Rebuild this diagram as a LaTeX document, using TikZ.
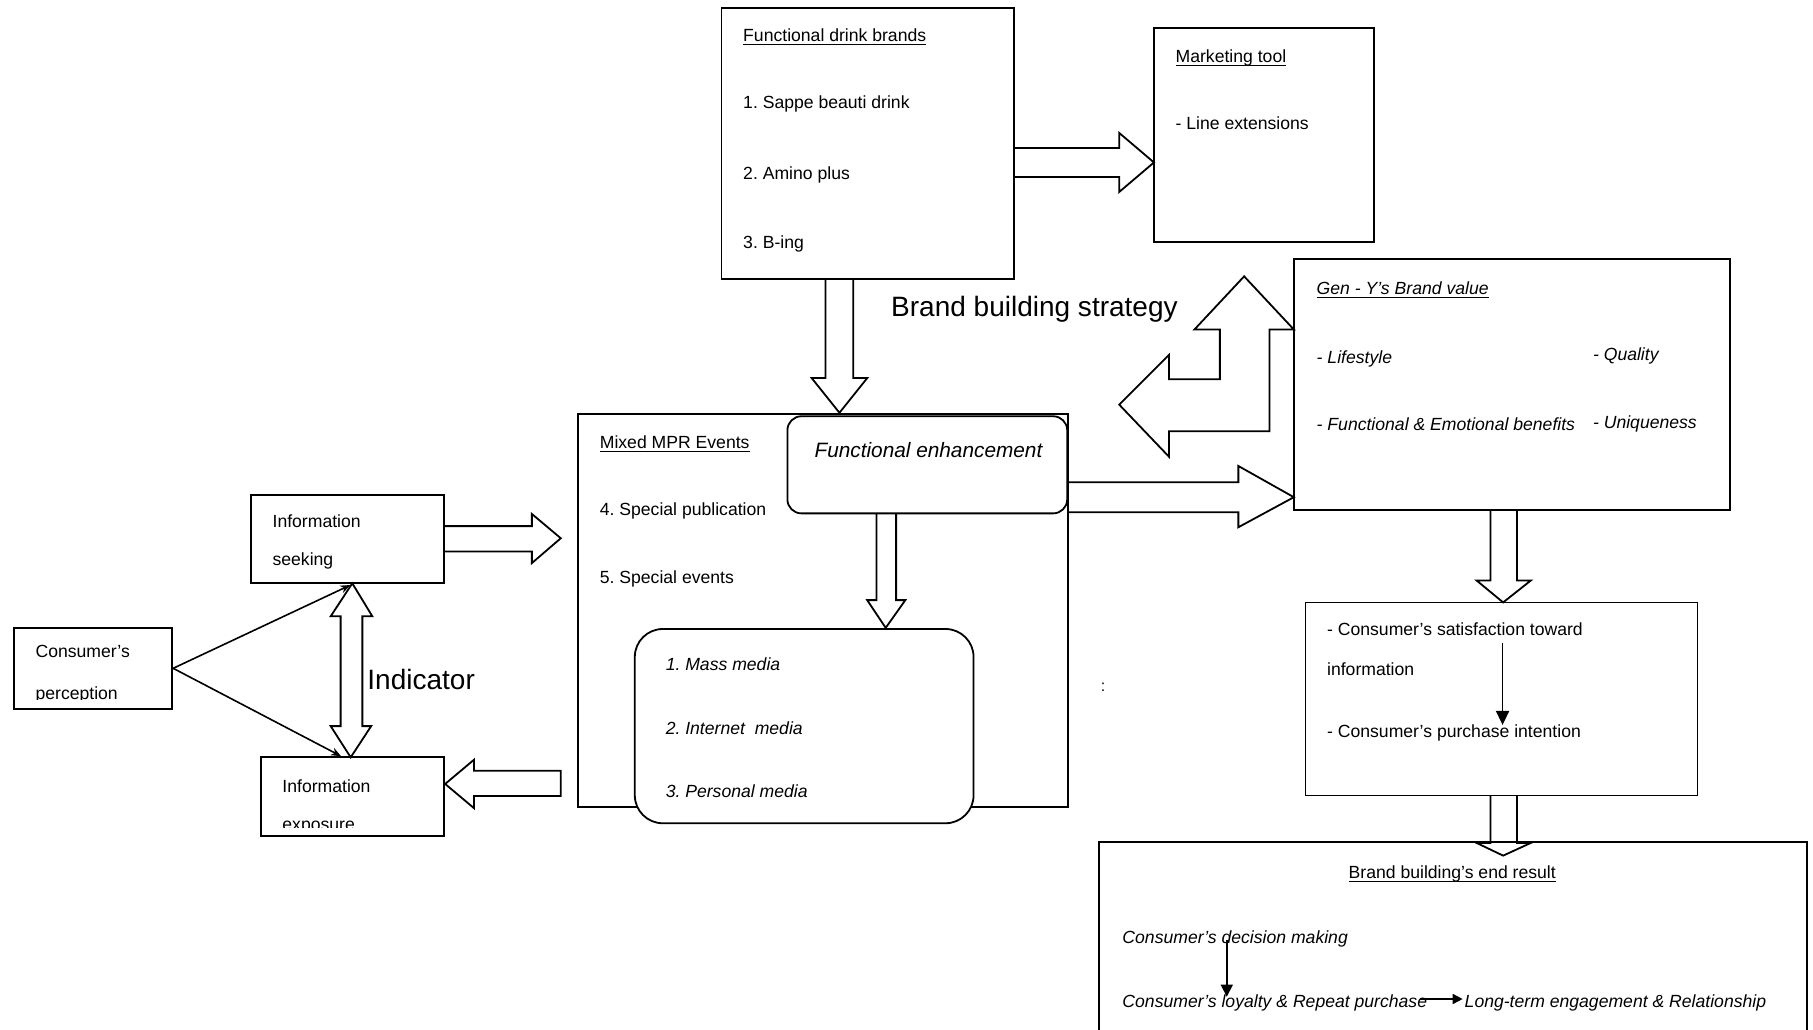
\documentclass[tikz,border=0pt]{standalone}
\usepackage{fontspec}
\setmainfont{Liberation Sans}
\usetikzlibrary{fit,arrows.meta}
\newsavebox\ulbox
\newcommand{\myul}[1]{\sbox\ulbox{#1}\rlap{\rule[-1.7pt]{\wd\ulbox}{0.5pt}}\usebox\ulbox}
\frenchspacing
\begin{document}
\begin{tikzpicture}[x=0.578pt,y=-0.578pt,line width=0.9pt,
  box/.style={draw,inner sep=0pt},
  lbl/.style={anchor=base west,inner sep=0pt,font=\fontsize{8.8}{10}\selectfont},
  ilbl/.style={anchor=base west,inner sep=0pt,font=\fontsize{8.8}{10}\selectfont\itshape},
  big/.style={anchor=base west,inner sep=0pt,font=\fontsize{14}{16}\selectfont},
  blk/.style={draw,line join=miter,line width=0.9pt},
  thinarrow/.style={line width=0.8pt}]
\useasboundingbox (0,0) rectangle (1568,890);
\fill[white] (0,0) rectangle (1568,890);

% ---------- boxes ----------
\node[box,fit={(624,7)(877,241)}] (fdb) {};
\node[box,fit={(998,24)(1188,209)}] (mkt) {};
\node[box,fit={(500,358)(924,698)}] (mpr) {};
\node[box,fill=white,rounded corners=7pt,fit={(681,360)(923,444)}] (fe) {};
\node[box,fill=white,rounded corners=14pt,fit={(549,544)(842,712)}] (media) {};
\node[box,fit={(1119,224)(1496,441)}] (geny) {};
\node[box,fit={(1129,521)(1468,688)}] (sat) {};
\node[inner sep=0pt,fit={(951,729)(1562,890)}] (er) {};
\draw (er.south west) -- (er.north west) -- (er.north east) -- (er.south east);
\node[box,fit={(12,543)(149,613)}] (cp) {};
\node[box,fit={(217,428)(384,504)}] (is) {};
\node[box,fit={(226,655)(384,723)}] (ie) {};

% ---------- block arrows ----------
% brands -> marketing tool
\draw[blk] (877,128) -- (968,128) -- (968,115) -- (998,140.5) -- (968,166) -- (968,153) -- (877,153);
% brands -> MPR
\draw[blk] (714,241) -- (714,327) -- (702,327) -- (726,357) -- (750,327) -- (738,327) -- (738,241);
% functional enhancement -> media
\draw[blk] (758,444) -- (758,519) -- (750,519) -- (766,543) -- (783,519) -- (775,519) -- (775,444);
% MPR -> Gen-Y
\draw[blk] (924,417) -- (1071,417) -- (1071,403) -- (1119,430) -- (1071,456) -- (1071,443) -- (924,443);
% bent double arrow
\draw[blk,fill=white] (1098,373) -- (1011,373) -- (1011,395) -- (968,350) -- (1011,307) -- (1011,328)
  -- (1055,328) -- (1055,285) -- (1033,285) -- (1076,239) -- (1119,285) -- (1098,285) -- cycle;
% Gen-Y -> satisfaction
\draw[blk] (1289,441) -- (1289,502) -- (1277,502) -- (1300,521) -- (1324,502) -- (1312,502) -- (1312,441);
% satisfaction -> end result
\draw[blk] (1289,688) -- (1289,729) -- (1277,729) -- (1300,740) -- (1324,729) -- (1312,729) -- (1312,688);
% information seeking -> MPR
\draw[blk] (384,455) -- (460,455) -- (460,444.5) -- (485,465.5) -- (460,487) -- (460,477) -- (384,477);
% MPR -> information exposure
\draw[blk,fill=white] (485,666.5) -- (410,666.5) -- (410,657) -- (385,678) -- (410,699) -- (410,688.4) -- (485,688.4) -- cycle;
% indicator double arrow
\draw[blk,fill=white] (304.7,504.5) -- (322,533) -- (313.4,533) -- (313.4,628) -- (321,628) -- (303.3,655)
  -- (286,628) -- (294.6,628) -- (294.6,533) -- (286,533) -- cycle;

% ---------- thin connectors ----------
\coordinate (isb) at (303,506);
\coordinate (iet) at (295,654);
\draw[thinarrow,-{Stealth[length=5pt,width=4pt]}] (cp.east) -- (isb);
\draw[thinarrow,-{Stealth[length=5pt,width=4pt]}] (cp.east) -- (iet);
\coordinate (s1) at (1299.5,556);
\coordinate (s2) at (1299.5,627);
\draw[thinarrow,-{Triangle[length=7pt,width=6.5pt]}] (s1) -- (s2);
\coordinate (e1) at (1061,813);
\coordinate (e2) at (1061,862);
\draw[thinarrow,-{Triangle[length=6pt,width=6pt]}] (e1) -- (e2);
\coordinate (e3) at (1228,864);
\coordinate (e4) at (1265,864);
\draw[thinarrow,-{Triangle[length=5pt,width=5pt]}] (e3) -- (e4);

% ---------- texts ----------
\node[lbl] (t1) at (642,36) {\myul{Functional drink brands}};
\node[lbl] (t2) at (642,94) {1. Sappe beauti drink};
\node[lbl] (t3) at (642,155) {2. Amino plus};
\node[lbl] (t4) at (642,215) {3. B-ing};
\node[lbl] (t5) at (1016,54) {\myul{Marketing tool}};
\node[lbl] (t6) at (1016,112) {- Line extensions};
\node[big] (t7) at (770,274) {Brand building strategy};
\node[lbl] (t8) at (518,388) {\myul{Mixed MPR Events}};
\node[lbl] (t9) at (518,446) {4. Special publication};
\node[lbl] (t10) at (518,505) {5. Special events};
\node[anchor=base,inner sep=0pt,font=\fontsize{10.4}{12}\selectfont\itshape] (t11) at (803,395.5) {Functional enhancement};
\node[ilbl] (t12) at (575,580) {1. Mass media};
\node[ilbl] (t13) at (575,635) {2. Internet\ \ media};
\node[ilbl] (t14) at (575,690) {3. Personal media};
\node[ilbl] (t15) at (1138,255) {\myul{Gen - Y's Brand value}};
\node[ilbl] (t16) at (1138,314) {- Lifestyle};
\node[ilbl] (t17) at (1377,312) {- Quality};
\node[ilbl] (t18) at (1138,372) {- Functional \& Emotional benefits};
\node[ilbl] (t19) at (1377,371) {- Uniqueness};
\node[lbl] (t20) at (1147,550) {- Consumer's satisfaction toward};
\node[lbl] (t21) at (1147,584) {information};
\node[lbl] (t22) at (1147,638) {- Consumer's purchase intention};
\node[anchor=base,inner sep=0pt,font=\fontsize{8.8}{10}\selectfont] (t23) at (1256,760) {\myul{Brand building's end result}};
\node[ilbl] (t24) at (970,816) {Consumer's decision making};
\node[ilbl] (t25) at (970,871) {Consumer's loyalty \& Repeat purchase};
\node[ilbl] (t26) at (1266,871) {Long-term engagement \& Relationship};
\node[lbl] (t27) at (235,456) {Information};
\node[lbl] (t28) at (235,489) {seeking};
\node[lbl] (t29) at (30,569) {Consumer's};
\begin{scope}
  \clip (13,544) rectangle (148,605.3);
  \node[lbl] (t30) at (30,604.8) {perception};
\end{scope}
\node[lbl] (t31) at (243.5,685) {Information};
\begin{scope}
  \clip (227,656) rectangle (383,716);
  \node[lbl] (t32) at (243.5,718) {exposure};
\end{scope}
\node[big] (t33) at (317,596) {Indicator};
\node[anchor=center,inner sep=0pt,font=\fontsize{8}{9}\selectfont] (t34) at (954,594) {:};
\end{tikzpicture}
\end{document}
